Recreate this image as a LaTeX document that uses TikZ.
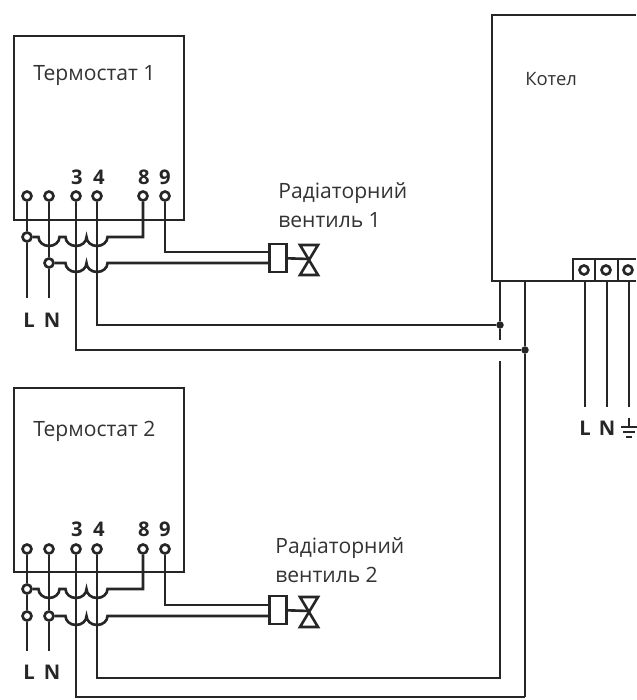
\documentclass[tikz,border=0pt]{standalone}
\usepackage{fontspec}
\setmainfont{Open Sans}
\tikzset{
  wire/.style={line width=1.5pt, draw=black!85},
  devbox/.style={wire, inner sep=0pt, minimum width=3.4cm, minimum height=3.68cm},
  clamp/.style={wire, circle, fill=white, inner sep=0pt, minimum size=0.18cm},
  blob/.style={circle, fill=black!85, inner sep=0pt, minimum size=0.15cm},
  actbox/.style={wire, inner sep=0pt, minimum width=0.34cm, minimum height=0.56cm},
  title/.style={anchor=west, align=left, text=black!80, inner sep=0pt, font=\fontsize{12}{16.5}\selectfont},
  pin/.style={text=black!85, font=\fontsize{11.5}{13}\selectfont\bfseries}
}
\newcommand{\hoparc}{arc[start angle=180, end angle=0, x radius=10.5, y radius=9]}
\begin{document}
\begin{tikzpicture}[x=0.02cm, y=-0.02cm]
\useasboundingbox (0,0) rectangle (636,700);
\node[devbox] (therm1) at (99,128) {};
\node[devbox] (therm2) at (99,480) {};
\node[title] (name1) at (33,76) {Термостат 1};
\node[title] (name2) at (33,431) {Термостат 2};
\node[title, font=\fontsize{10.5}{13}\selectfont] (name3) at (525,79) {Котел};
\node[title] (valvename1) at (278,205) {Радіаторний\\вентиль 1};
\node[title] (valvename2) at (275,560) {Радіаторний\\вентиль 2};
\node[clamp] (t1a) at (27,196) {};
\node[clamp] (t1b) at (49,196) {};
\node[clamp] (t1c) at (76,196) {};
\node[clamp] (t1d) at (97,196) {};
\node[clamp] (t1e) at (143,196) {};
\node[clamp] (t1f) at (165,196) {};
\node[clamp] (t2a) at (27,549) {};
\node[clamp] (t2b) at (49,549) {};
\node[clamp] (t2c) at (76,549) {};
\node[clamp] (t2d) at (97,549) {};
\node[clamp] (t2e) at (143,549) {};
\node[clamp] (t2f) at (165,549) {};
\node[pin] (n1c) at (77,177) {3};
\node[pin] (n1d) at (99,177) {4};
\node[pin] (n1e) at (144,177) {8};
\node[pin] (n1f) at (165,177) {9};
\node[pin] (n2c) at (77,529) {3};
\node[pin] (n2d) at (99,529) {4};
\node[pin] (n2e) at (144,529) {8};
\node[pin] (n2f) at (165,529) {9};
\node[pin] (l1) at (29,320) {L};
\node[pin] (n1) at (52,320) {N};
\node[pin] (l2) at (29,672) {L};
\node[pin] (n2) at (52,672) {N};
\node[pin] (l3) at (585,428) {L};
\node[pin] (n3) at (607,428) {N};
\node[clamp] (j1a) at (27,237) {};
\node[clamp] (j1b) at (49,263) {};
\node[clamp] (j2a) at (27,589) {};
\node[clamp] (j2b) at (27,616) {};
\node[clamp] (j2c) at (49,616) {};
\coordinate (e1a) at (27,298);
\coordinate (e1b) at (49,298);
\coordinate (e2a) at (27,651);
\coordinate (e2b) at (49,651);
\draw[wire] (t1a) -- (j1a) -- (e1a);
\draw[wire] (t1b) -- (j1b) -- (e1b);
\draw[wire] (t2a) -- (j2a) -- (j2b) -- (e2a);
\draw[wire] (t2b) -- (j2c) -- (e2b);
\draw[wire] (j1a.east) -- (38.5,237) \hoparc -- ++(6,0) \hoparc \hoparc -| (t1e);
\draw[wire] (j2a.east) -- (38.5,589) \hoparc -- ++(6,0) \hoparc \hoparc -| (t2e);
\node[actbox] (act1) at (278,258) {};
\node[actbox] (act2) at (278,610) {};
\coordinate (v1) at (309,259);
\coordinate (v2) at (309,611);
\draw[wire] (j1b.east) -- (65.5,263) \hoparc \hoparc -- ([yshift=-0.1cm]act1.west);
\draw[wire] (j2c.east) -- (65.5,616) \hoparc \hoparc -- ([yshift=-0.12cm]act2.west);
\draw[wire] (t1f) |- ([yshift=0.12cm]act1.west);
\draw[wire] (t2f) |- ([yshift=0.1cm]act2.west);
\draw[wire] (act1) -- (v1);
\draw[wire] (act2) -- (v2);
\draw[wire, line join=miter] (300,245) -- (318,275) -- (300,275) -- (318,245) -- cycle;
\draw[wire, line join=miter] (300,597) -- (318,627) -- (300,627) -- (318,597) -- cycle;
\draw[wire] (636,15) -- (492,15) -- (492,281) -- (636,281);
\draw[wire] (573,281) -- (573,259) -- (636,259);
\draw[wire] (595,259) -- (595,281);
\draw[wire] (618,259) -- (618,281);
\node[clamp] (k1) at (584,270) {};
\node[clamp] (k2) at (606,270) {};
\node[clamp] (k3) at (628,270) {};
\coordinate (b1) at (585,281);
\coordinate (b2) at (607,281);
\coordinate (b3) at (629,281);
\coordinate (c1) at (585,407);
\coordinate (c2) at (607,407);
\coordinate (c3) at (629,407);
\draw[wire] (b1) -- (c1);
\draw[wire] (b2) -- (c2);
\draw[wire] (b3) -- (c3);
\draw[wire] (629,418) -- (629,427);
\draw[wire] (621,427) -- (637,427);
\draw[wire] (623,432) -- (635,432);
\draw[wire] (626,437) -- (632,437);
\node[blob] (dot1) at (500,325) {};
\node[blob] (dot2) at (525,350) {};
\coordinate (p1) at (500,281);
\coordinate (p2) at (525,281);
\coordinate (p3) at (500,340);
\coordinate (p4) at (500,361);
\coordinate (p5) at (500,678);
\coordinate (p6) at (525,697);
\draw[wire] (p1) -- (dot1) -- (p3);
\draw[wire] (p2) -- (dot2) -- (p6);
\draw[wire] (t1d) |- (dot1);
\draw[wire] (t1c) |- (dot2);
\draw[wire] (t2d) |- (p5) -- (p4);
\draw[wire] (t2c) |- (p6);
\end{tikzpicture}
\end{document}
